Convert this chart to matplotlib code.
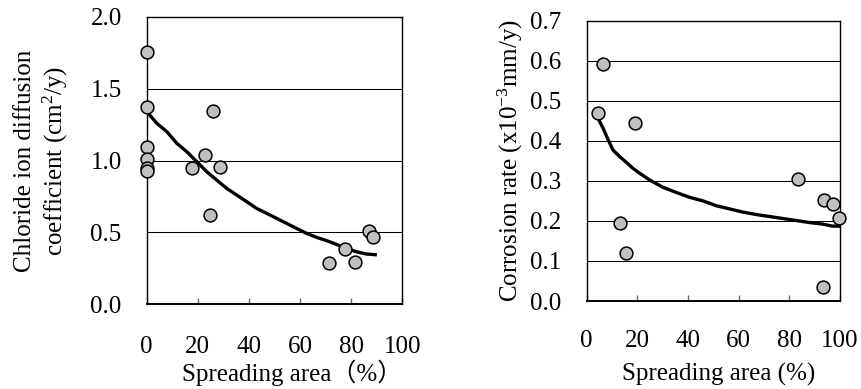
import matplotlib
matplotlib.use("Agg")
import matplotlib.pyplot as plt

plt.rcParams['font.family'] = ['Liberation Serif', 'Noto Sans CJK JP', 'DejaVu Sans']
plt.rcParams['mathtext.fontset'] = 'custom'
plt.rcParams['mathtext.rm'] = 'Liberation Serif'

# left panel: chloride ion diffusion coefficient
cl_x = [0, 0, 0, 0, 0, 0, 17.7, 22.9, 26.1, 28.7, 24.8, 71.2, 77.4, 81.4, 86.9, 88.7]
cl_y = [1.757, 1.374, 1.096, 1.010, 0.946, 0.929, 0.946, 1.038, 1.346, 0.957,
        0.621, 0.285, 0.382, 0.297, 0.510, 0.466]
cl_fit_x = [0, 4.0, 7.9, 11.8, 15.7, 19.6, 23.5, 27.4, 31.3, 35.2, 39.1, 43.0, 46.9,
            50.8, 54.7, 58.6, 62.5, 66.4, 70.3, 74.2, 78.1, 81.9, 85.8, 89.4]
cl_fit_y = [1.34, 1.258, 1.200, 1.119, 1.061, 0.992, 0.922, 0.864, 0.806, 0.760, 0.714,
            0.667, 0.633, 0.598, 0.563, 0.528, 0.494, 0.466, 0.443, 0.417, 0.389,
            0.366, 0.350, 0.345]

# right panel: corrosion rate
cr_x = [6.5, 4.5, 19.0, 13.3, 15.4, 83.3, 93.8, 97.1, 99.5, 93.2]
cr_y = [0.592, 0.470, 0.445, 0.194, 0.121, 0.305, 0.252, 0.242, 0.208, 0.034]
cr_fit_x = [4.5, 6.5, 8.5, 10.4, 13.1, 15.7, 18.3, 20.9, 24.9, 30.1, 35.4, 40.6, 45.9,
            51.1, 56.4, 61.7, 66.9, 72.2, 77.4, 82.7, 87.9, 93.2, 97.1, 99.5]
cr_fit_y = [0.456, 0.431, 0.402, 0.377, 0.360, 0.346, 0.331, 0.319, 0.302, 0.284,
            0.271, 0.259, 0.250, 0.238, 0.230, 0.222, 0.216, 0.211, 0.206, 0.201,
            0.196, 0.192, 0.187, 0.187]

x_ticks = [0, 20, 40, 60, 80, 100]
FS = 18

W, H = 861, 389
fig = plt.figure(figsize=(W / 100, H / 100), dpi=100)

# axes positions in pixels
ax1 = fig.add_axes([146.7 / W, 1 - 304.3 / H, (402.3 - 146.7) / W, (304.3 - 16.7) / H])
ax2 = fig.add_axes([586.7 / W, 1 - 301 / H, (840 - 586.7) / W, (301 - 20.7) / H])


def style(ax, ymax, ystep, grid):
    ax.set_xlim(0, 100)
    ax.set_ylim(0, ymax)
    ax.set_xticks(x_ticks)
    n = int(round(ymax / ystep))
    ax.set_yticks([i * ystep for i in range(n + 1)])
    ax.set_yticklabels([f"{i * ystep:.1f}" for i in range(n + 1)])
    for g in grid:
        ax.axhline(g, color='black', lw=0.75, zorder=1)
    for s in ax.spines.values():
        s.set_linewidth(1.0)
    ax.spines['bottom'].set_linewidth(1.4)
    ax.tick_params(axis='x', direction='in', length=4, width=1, color='#666666',
                   labelsize=FS)
    ax.tick_params(axis='y', length=0, labelsize=FS, pad=18)


style(ax1, 2.0, 0.5, [0.5, 1.0, 1.5])
ax1.tick_params(axis='x', pad=23)
ax1.plot(cl_fit_x, cl_fit_y, color='black', lw=2.4, zorder=3)
ax1.scatter(cl_x, cl_y, s=85, facecolor='#c0c0c0', edgecolor='black', linewidth=1.1,
            zorder=4, clip_on=False)
ax1.set_xlabel('Spreading area（%）', fontsize=FS, labelpad=1)
ax1.xaxis.label.set_x(0.57)
ax1.set_ylabel('Chloride ion diffusion\ncoefficient (cm$\\mathregular{^{2}}$/y)',
               fontsize=FS, labelpad=15, linespacing=1.2)

style(ax2, 0.7, 0.1, [0.1, 0.2, 0.3, 0.4, 0.5, 0.6])
ax2.tick_params(axis='x', pad=21)
ax2.plot(cr_fit_x, cr_fit_y, color='black', lw=2.4, zorder=3)
ax2.scatter(cr_x, cr_y, s=85, facecolor='#c0c0c0', edgecolor='black', linewidth=1.1,
            zorder=4, clip_on=False)
ax2.set_xlabel('Spreading area (%)', fontsize=FS, labelpad=8)
ax2.xaxis.label.set_x(0.52)
ax2.set_ylabel('Corrosion rate (x10$\\mathregular{^{-3}}$mm/y)', fontsize=FS,
               labelpad=4)

fig.savefig('out.png', dpi=100)
